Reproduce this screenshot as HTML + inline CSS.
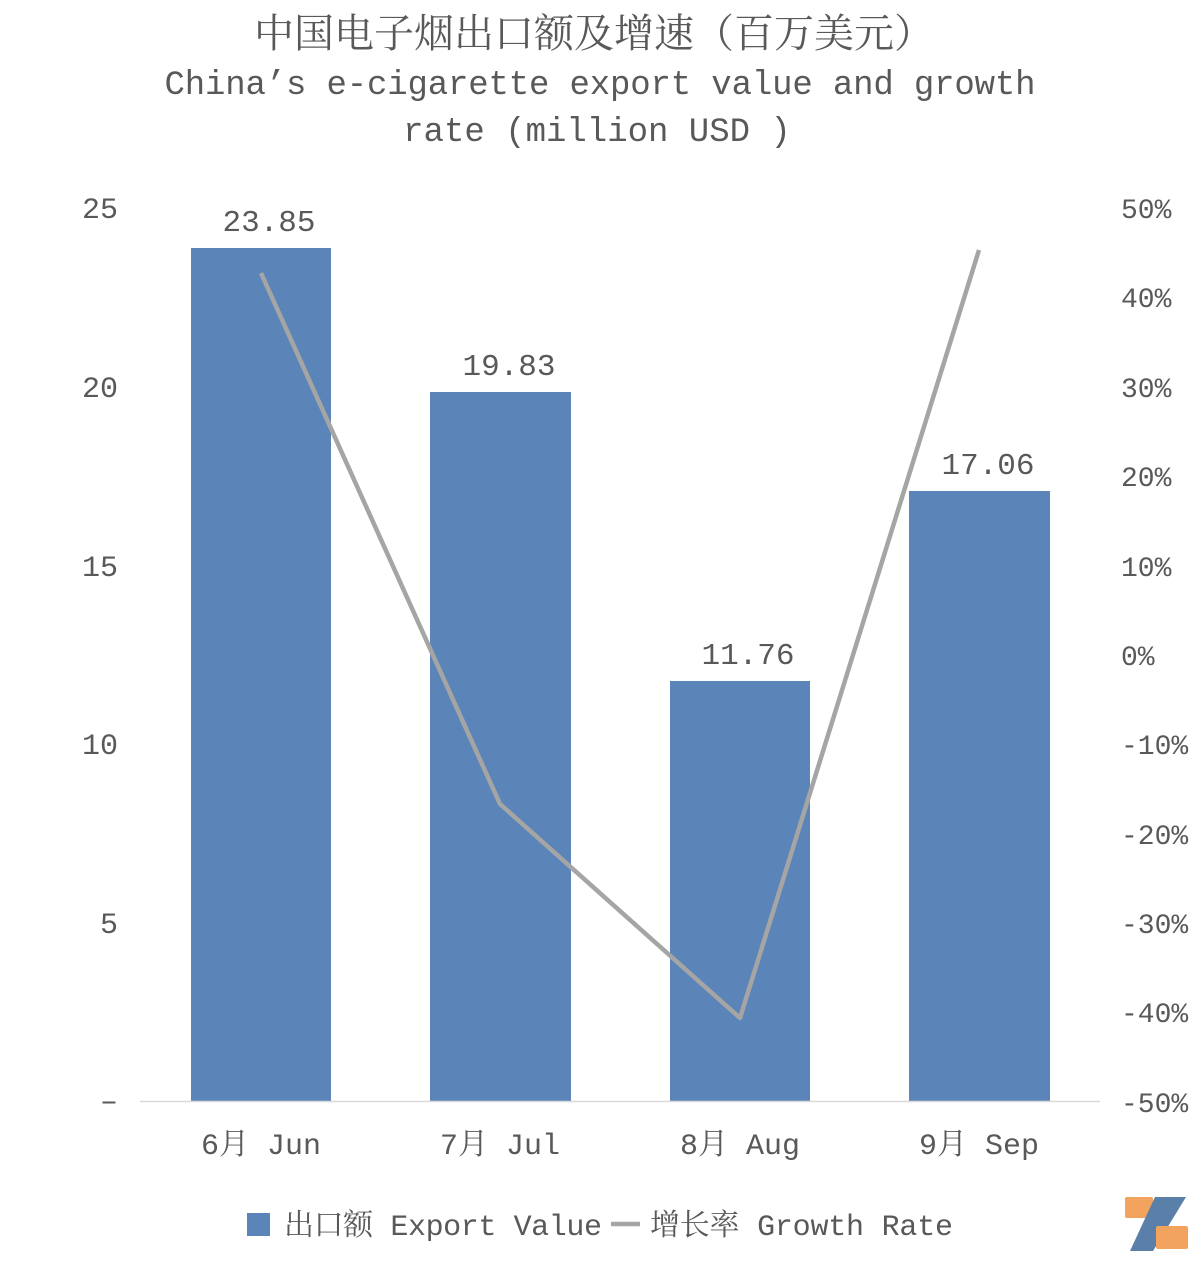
<!DOCTYPE html>
<html><head><meta charset="utf-8"><style>
body{margin:0;background:#fff;}
svg{display:block;}
text{font-family:"Liberation Mono","Noto Serif CJK SC",monospace;fill:#595959;}
</style></head><body>
<svg width="1200" height="1263" viewBox="0 0 1200 1263">
<text x="594" y="47" font-size="40" text-anchor="middle">中国电子烟出口额及增速（百万美元）</text>
<text x="600" y="94" font-size="34" text-anchor="middle" textLength="871">China’s e-cigarette export value and growth</text>
<text x="597" y="141" font-size="34" text-anchor="middle">rate (million USD )</text>
<g font-size="30" text-anchor="end">
<text x="118" y="218">25</text><text x="118" y="397">20</text><text x="118" y="576">15</text>
<text x="118" y="754">10</text><text x="118" y="933">5</text><text x="118" y="1110">–</text>
</g>
<g font-size="28" text-anchor="start">
<text x="1121" y="218">50%</text><text x="1121" y="307">40%</text><text x="1121" y="397">30%</text>
<text x="1121" y="486">20%</text><text x="1121" y="576">10%</text><text x="1121" y="665">0%</text>
<text x="1121" y="754">-10%</text><text x="1121" y="844">-20%</text><text x="1121" y="933">-30%</text>
<text x="1121" y="1022">-40%</text><text x="1121" y="1112">-50%</text>
</g>
<g fill="#5b84b8">
<rect x="191" y="248" width="140" height="853"/>
<rect x="430" y="392" width="141" height="709"/>
<rect x="670" y="681" width="140" height="420"/>
<rect x="909" y="491" width="141" height="610"/>
</g>
<line x1="140" y1="1101.5" x2="1100" y2="1101.5" stroke="#d9d9d9" stroke-width="1.5"/>
<polyline points="261,273 500,804 740,1018 979,250" fill="none" stroke="#a5a5a5" stroke-width="4.5" stroke-linejoin="round"/>
<g font-size="31" text-anchor="middle">
<text x="269" y="231">23.85</text><text x="509" y="375">19.83</text>
<text x="748" y="664">11.76</text><text x="988" y="474">17.06</text>
</g>
<g font-size="30" text-anchor="middle">
<text x="261" y="1154">6月 Jun</text><text x="500" y="1154">7月 Jul</text>
<text x="740" y="1154">8月 Aug</text><text x="979" y="1154">9月 Sep</text>
</g>
<rect x="247" y="1213" width="23" height="23" fill="#5b84b8"/>
<text x="284" y="1235" font-size="30" textLength="318">出口额 Export Value</text>
<line x1="611" y1="1224" x2="640" y2="1224" stroke="#a5a5a5" stroke-width="4.5"/>
<text x="650" y="1235" font-size="30" textLength="303">增长率 Growth Rate</text>
<rect x="1125" y="1197" width="28" height="21" fill="#f2a35e" rx="2"/>
<polygon points="1155,1197 1186,1197 1153,1251 1130,1251" fill="#5a7fa8"/>
<rect x="1156" y="1226" width="32" height="23" fill="#f2a35e" rx="2"/>
</svg>
</body></html>
